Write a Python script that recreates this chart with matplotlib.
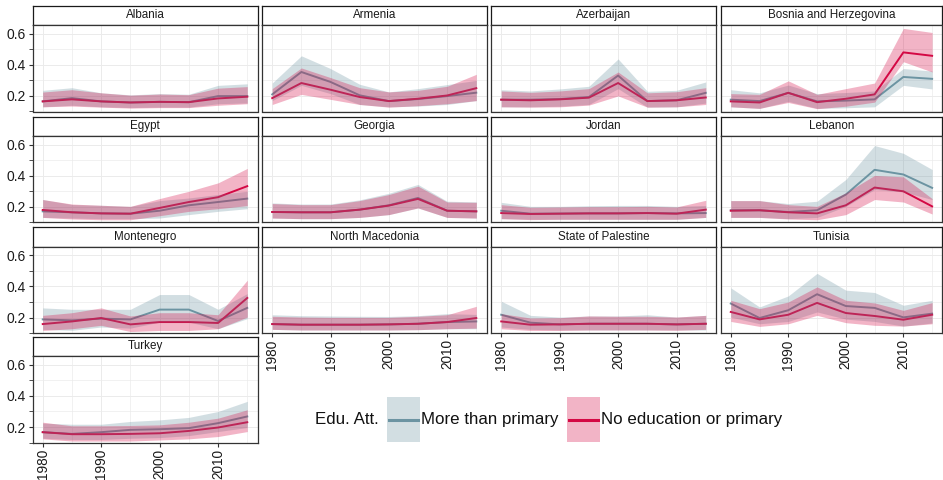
import matplotlib
matplotlib.use("Agg")
import matplotlib.pyplot as plt
from matplotlib.patches import Rectangle
from matplotlib.lines import Line2D

plt.rcParams['font.family'] = ['Liberation Sans', 'DejaVu Sans']

years = [1980, 1985, 1990, 1995, 2000, 2005, 2010, 2015]

countries = ["Albania", "Armenia", "Azerbaijan", "Bosnia and Herzegovina",
             "Egypt", "Georgia", "Jordan", "Lebanon",
             "Montenegro", "North Macedonia", "State of Palestine", "Tunisia",
             "Turkey"]

# "More than primary"
more_mean = {
    "Albania": [0.165, 0.186, 0.165, 0.158, 0.162, 0.160, 0.199, 0.199],
    "Armenia": [0.210, 0.354, 0.290, 0.204, 0.167, 0.180, 0.199, 0.221],
    "Azerbaijan": [0.176, 0.176, 0.180, 0.193, 0.331, 0.167, 0.172, 0.220],
    "Bosnia and Herzegovina": [0.176, 0.167, 0.220, 0.165, 0.170, 0.178, 0.322, 0.310],
    "Egypt": [0.171, 0.165, 0.158, 0.156, 0.175, 0.210, 0.231, 0.253],
    "Georgia": [0.167, 0.165, 0.165, 0.182, 0.210, 0.257, 0.175, 0.171],
    "Jordan": [0.175, 0.156, 0.157, 0.158, 0.158, 0.160, 0.158, 0.160],
    "Lebanon": [0.178, 0.178, 0.167, 0.178, 0.279, 0.438, 0.408, 0.322],
    "Montenegro": [0.188, 0.182, 0.193, 0.188, 0.251, 0.251, 0.178, 0.262],
    "North Macedonia": [0.158, 0.154, 0.154, 0.154, 0.156, 0.160, 0.171, 0.175],
    "State of Palestine": [0.218, 0.167, 0.156, 0.160, 0.160, 0.160, 0.156, 0.160],
    "Tunisia": [0.290, 0.197, 0.247, 0.350, 0.274, 0.262, 0.201, 0.225],
    "Turkey": [0.167, 0.156, 0.167, 0.182, 0.186, 0.193, 0.225, 0.268],
}
more_lo = {
    "Albania": [0.130, 0.140, 0.130, 0.125, 0.128, 0.128, 0.150, 0.155],
    "Armenia": [0.170, 0.268, 0.215, 0.145, 0.130, 0.135, 0.145, 0.170],
    "Azerbaijan": [0.130, 0.130, 0.134, 0.145, 0.247, 0.128, 0.130, 0.154],
    "Bosnia and Herzegovina": [0.130, 0.120, 0.165, 0.120, 0.124, 0.130, 0.268, 0.245],
    "Egypt": [0.132, 0.128, 0.124, 0.124, 0.128, 0.150, 0.171, 0.188],
    "Georgia": [0.128, 0.124, 0.124, 0.132, 0.150, 0.193, 0.132, 0.128],
    "Jordan": [0.124, 0.120, 0.120, 0.120, 0.120, 0.120, 0.120, 0.132],
    "Lebanon": [0.132, 0.132, 0.124, 0.132, 0.203, 0.311, 0.296, 0.247],
    "Montenegro": [0.124, 0.118, 0.139, 0.132, 0.171, 0.171, 0.128, 0.193],
    "North Macedonia": [0.124, 0.120, 0.120, 0.120, 0.120, 0.122, 0.128, 0.128],
    "State of Palestine": [0.139, 0.124, 0.120, 0.120, 0.120, 0.120, 0.120, 0.120],
    "Tunisia": [0.203, 0.160, 0.175, 0.236, 0.190, 0.175, 0.145, 0.165],
    "Turkey": [0.128, 0.120, 0.120, 0.128, 0.132, 0.145, 0.171, 0.197],
}
more_hi = {
    "Albania": [0.236, 0.253, 0.220, 0.207, 0.215, 0.211, 0.268, 0.278],
    "Armenia": [0.283, 0.458, 0.376, 0.275, 0.226, 0.247, 0.273, 0.300],
    "Azerbaijan": [0.240, 0.232, 0.245, 0.262, 0.438, 0.230, 0.236, 0.290],
    "Bosnia and Herzegovina": [0.240, 0.220, 0.270, 0.215, 0.222, 0.232, 0.376, 0.360],
    "Egypt": [0.247, 0.215, 0.210, 0.203, 0.240, 0.257, 0.279, 0.300],
    "Georgia": [0.225, 0.218, 0.218, 0.245, 0.287, 0.344, 0.236, 0.232],
    "Jordan": [0.229, 0.203, 0.203, 0.207, 0.209, 0.209, 0.203, 0.209],
    "Lebanon": [0.240, 0.240, 0.221, 0.236, 0.376, 0.594, 0.544, 0.440],
    "Montenegro": [0.262, 0.253, 0.253, 0.253, 0.348, 0.348, 0.253, 0.354],
    "North Macedonia": [0.218, 0.212, 0.210, 0.208, 0.207, 0.212, 0.225, 0.220],
    "State of Palestine": [0.305, 0.214, 0.203, 0.210, 0.210, 0.218, 0.203, 0.214],
    "Tunisia": [0.391, 0.268, 0.339, 0.484, 0.376, 0.361, 0.279, 0.311],
    "Turkey": [0.225, 0.218, 0.218, 0.236, 0.246, 0.262, 0.300, 0.365],
}

# "No education or primary"
noed_mean = {
    "Albania": [0.165, 0.178, 0.165, 0.158, 0.162, 0.160, 0.184, 0.195],
    "Armenia": [0.186, 0.283, 0.240, 0.193, 0.167, 0.182, 0.203, 0.250],
    "Azerbaijan": [0.176, 0.172, 0.178, 0.189, 0.283, 0.167, 0.172, 0.190],
    "Bosnia and Herzegovina": [0.165, 0.158, 0.220, 0.160, 0.182, 0.210, 0.480, 0.458],
    "Egypt": [0.180, 0.165, 0.158, 0.156, 0.193, 0.231, 0.262, 0.333],
    "Georgia": [0.167, 0.165, 0.165, 0.182, 0.208, 0.251, 0.175, 0.171],
    "Jordan": [0.160, 0.154, 0.156, 0.158, 0.158, 0.160, 0.156, 0.182],
    "Lebanon": [0.175, 0.178, 0.165, 0.158, 0.210, 0.324, 0.300, 0.203],
    "Montenegro": [0.158, 0.175, 0.197, 0.156, 0.171, 0.171, 0.165, 0.326],
    "North Macedonia": [0.158, 0.154, 0.154, 0.154, 0.156, 0.160, 0.171, 0.197],
    "State of Palestine": [0.175, 0.154, 0.156, 0.160, 0.160, 0.160, 0.156, 0.160],
    "Tunisia": [0.236, 0.188, 0.218, 0.294, 0.229, 0.210, 0.186, 0.218],
    "Turkey": [0.167, 0.154, 0.154, 0.156, 0.160, 0.175, 0.197, 0.231],
}
noed_lo = {
    "Albania": [0.130, 0.135, 0.128, 0.122, 0.125, 0.125, 0.140, 0.150],
    "Armenia": [0.145, 0.210, 0.178, 0.145, 0.128, 0.137, 0.150, 0.170],
    "Azerbaijan": [0.130, 0.128, 0.130, 0.141, 0.200, 0.128, 0.130, 0.145],
    "Bosnia and Herzegovina": [0.130, 0.120, 0.158, 0.118, 0.134, 0.160, 0.420, 0.354],
    "Egypt": [0.132, 0.122, 0.117, 0.117, 0.143, 0.171, 0.188, 0.208],
    "Georgia": [0.128, 0.124, 0.124, 0.132, 0.150, 0.193, 0.132, 0.128],
    "Jordan": [0.124, 0.118, 0.120, 0.120, 0.120, 0.120, 0.120, 0.132],
    "Lebanon": [0.132, 0.132, 0.122, 0.117, 0.150, 0.247, 0.231, 0.154],
    "Montenegro": [0.117, 0.128, 0.150, 0.110, 0.117, 0.117, 0.128, 0.203],
    "North Macedonia": [0.124, 0.120, 0.120, 0.120, 0.120, 0.122, 0.128, 0.132],
    "State of Palestine": [0.128, 0.117, 0.117, 0.120, 0.120, 0.120, 0.118, 0.124],
    "Tunisia": [0.175, 0.143, 0.160, 0.214, 0.167, 0.150, 0.145, 0.160],
    "Turkey": [0.124, 0.110, 0.110, 0.110, 0.117, 0.124, 0.139, 0.171],
}
noed_hi = {
    "Albania": [0.225, 0.240, 0.220, 0.205, 0.212, 0.208, 0.250, 0.260],
    "Armenia": [0.247, 0.380, 0.318, 0.253, 0.226, 0.236, 0.262, 0.339],
    "Azerbaijan": [0.232, 0.223, 0.232, 0.247, 0.354, 0.220, 0.227, 0.253],
    "Bosnia and Herzegovina": [0.215, 0.210, 0.297, 0.210, 0.247, 0.283, 0.634, 0.608],
    "Egypt": [0.247, 0.218, 0.210, 0.203, 0.253, 0.300, 0.354, 0.447],
    "Georgia": [0.221, 0.214, 0.214, 0.240, 0.279, 0.333, 0.231, 0.229],
    "Jordan": [0.214, 0.197, 0.199, 0.201, 0.201, 0.203, 0.199, 0.242],
    "Lebanon": [0.240, 0.240, 0.214, 0.203, 0.290, 0.402, 0.393, 0.253],
    "Montenegro": [0.214, 0.231, 0.262, 0.210, 0.231, 0.231, 0.218, 0.440],
    "North Macedonia": [0.208, 0.203, 0.201, 0.201, 0.201, 0.208, 0.218, 0.272],
    "State of Palestine": [0.225, 0.197, 0.199, 0.210, 0.208, 0.208, 0.203, 0.214],
    "Tunisia": [0.311, 0.257, 0.300, 0.397, 0.311, 0.294, 0.246, 0.296],
    "Turkey": [0.231, 0.208, 0.208, 0.210, 0.214, 0.231, 0.257, 0.311],
}

legend_title = "Edu. Att."
labels = ["More than primary", "No education or primary"]
colors = ["#6c94a2", "#d40844"]

W, H = 943, 480
fig = plt.figure(figsize=(W / 100, H / 100), dpi=100)

col_left = [32.5, 262, 491, 720.7]
col_w = [225, 224.5, 225, 221.5]
row_top = [5.7, 116.6, 227.3, 336.8]
strip_h = 19.3
panel_h = 86.5


def px_rect(x, y, w, h):
    return [x / W, 1 - (y + h) / H, w / W, h / H]


for i, c in enumerate(countries):
    r, k = divmod(i, 4)
    x0 = col_left[k]
    y0 = row_top[r]
    pw = col_w[k]

    # strip
    sax = fig.add_axes(px_rect(x0, y0, pw, strip_h))
    sax.set_xticks([])
    sax.set_yticks([])
    for s in sax.spines.values():
        s.set_color("#1a1a1a")
        s.set_linewidth(0.9)
    sax.text(0.5, 0.5, c, ha="center", va="center", fontsize=8.4,
             color="#1a1a1a", transform=sax.transAxes)

    ax = fig.add_axes(px_rect(x0, y0 + strip_h, pw, panel_h))
    ax.plot(years, more_mean[c], color=colors[0], lw=1.4, zorder=2)
    ax.plot(years, noed_mean[c], color=colors[1], lw=1.4, zorder=2)
    ax.fill_between(years, more_lo[c], more_hi[c], color=colors[0],
                    alpha=0.3, lw=0, zorder=3)
    ax.fill_between(years, noed_lo[c], noed_hi[c], color=colors[1],
                    alpha=0.3, lw=0, zorder=3)

    ax.set_xlim(1978.25, 2016.75)
    ax.set_ylim(0.10, 0.656)
    ax.set_xticks([1980, 1990, 2000, 2010])
    ax.set_xticks([1985, 1995, 2005, 2015], minor=True)
    ax.set_yticks([0.2, 0.4, 0.6])
    ax.set_yticks([0.1, 0.3, 0.5], minor=True)
    ax.grid(which="major", color="#ebebeb", lw=0.7)
    ax.grid(which="minor", color="#ebebeb", lw=0.5)
    ax.set_axisbelow(True)
    for s in ax.spines.values():
        s.set_color("#333333")
        s.set_linewidth(0.9)

    show_y = (k == 0)
    show_x = (r == 3) or (r == 2 and k > 0)
    ax.tick_params(axis="y", which="both", length=3 if show_y else 0,
                   color="#333333", labelsize=10, labelcolor="#1a1a1a",
                   labelleft=show_y, pad=2)
    ax.tick_params(axis="x", which="major", length=3 if show_x else 0,
                   color="#333333", labelsize=9.8, labelcolor="#1a1a1a",
                   labelbottom=show_x, labelrotation=90, pad=1.5)
    ax.tick_params(axis="x", which="minor", length=0)
    ax.set_yticklabels(["0.2", "0.4", "0.6"])

# legend drawn in pixel space
lax = fig.add_axes([0, 0, 1, 1], facecolor="none")
lax.set_xlim(0, W)
lax.set_ylim(H, 0)
lax.axis("off")
lax.text(315, 419.5, legend_title, fontsize=12.2, ha="left", va="center",
         color="#111111")
key_x = [386.7, 566.7]
for kx, lab, col in zip(key_x, labels, colors):
    lax.add_patch(Rectangle((kx, 396.7), 33.3, 45, facecolor=col, alpha=0.3,
                            lw=0))
    lax.add_line(Line2D([kx + 2, kx + 31.3], [419.5, 419.5], color=col, lw=2.2))
    lax.text(kx + 34, 419.5, lab, fontsize=12.2, ha="left", va="center",
             color="#111111")

fig.savefig("out.png", dpi=100)
